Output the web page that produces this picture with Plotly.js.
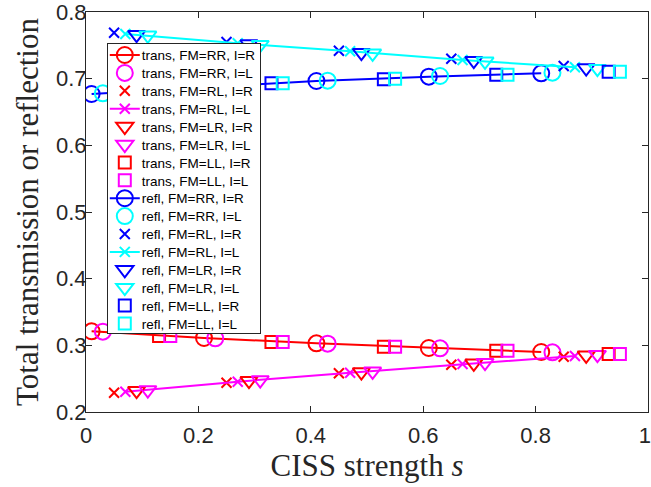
<!DOCTYPE html>
<html>
<head>
<meta charset="utf-8">
<script src="https://cdn.plot.ly/plotly-3.0.1.min.js"></script>
<style>
  html, body { margin: 0; padding: 0; background: #fff; }
  #chart { width: 651px; height: 487px; }
</style>
</head>
<body>
<div id="chart"></div>
<script>
// CISS strength sample points, each series offset slightly so markers stay visible
const sRR_R = [0.01, 0.21, 0.41, 0.61, 0.81];
const sRR_L = [0.03, 0.23, 0.43, 0.63, 0.83];
const sRL_R = [0.05, 0.25, 0.45, 0.65, 0.85];
const sRL_L = [0.07, 0.27, 0.47, 0.67, 0.87];
const sLR_R = [0.09, 0.29, 0.49, 0.69, 0.89];
const sLR_L = [0.11, 0.31, 0.51, 0.71, 0.91];
const sLL_R = [0.13, 0.33, 0.53, 0.73, 0.93];
const sLL_L = [0.15, 0.35, 0.55, 0.75, 0.95];

// Total transmission
const transRR_R = [0.321, 0.311, 0.303, 0.296, 0.290];
const transRR_L = [0.3205, 0.3105, 0.3025, 0.2955, 0.2895];
const transRL_R = [0.229, 0.244, 0.258, 0.271, 0.283];
const transRL_L = [0.2305, 0.2455, 0.259, 0.272, 0.284];
const transLR_R = [0.232, 0.247, 0.260, 0.273, 0.285];
const transLR_L = [0.233, 0.248, 0.261, 0.274, 0.286];
const transLL_R = [0.314, 0.305, 0.298, 0.292, 0.287];
const transLL_L = [0.314, 0.305, 0.298, 0.292, 0.287];

// Total reflection
const reflRR_R = [0.677, 0.687, 0.6965, 0.703, 0.708];
const reflRR_L = [0.678, 0.688, 0.697, 0.704, 0.709];
const reflRL_R = [0.769, 0.755, 0.742, 0.730, 0.719];
const reflRL_L = [0.767, 0.753, 0.741, 0.728, 0.717];
const reflLR_R = [0.766, 0.752, 0.739, 0.727, 0.716];
const reflLR_L = [0.765, 0.751, 0.738, 0.726, 0.715];
const reflLL_R = [0.684, 0.693, 0.699, 0.706, 0.7105];
const reflLL_L = [0.684, 0.693, 0.700, 0.706, 0.7105];

const seriesNames = [
  'trans, FM=RR, I=R', 'trans, FM=RR, I=L', 'trans, FM=RL, I=R', 'trans, FM=RL, I=L',
  'trans, FM=LR, I=R', 'trans, FM=LR, I=L', 'trans, FM=LL, I=R', 'trans, FM=LL, I=L',
  'refl, FM=RR, I=R', 'refl, FM=RR, I=L', 'refl, FM=RL, I=R', 'refl, FM=RL, I=L',
  'refl, FM=LR, I=R', 'refl, FM=LR, I=L', 'refl, FM=LL, I=R', 'refl, FM=LL, I=L'
];

const xTicks = [0, 0.2, 0.4, 0.6, 0.8, 1];
const xTickText = ['0', '0.2', '0.4', '0.6', '0.8', '1'];
const yTicks = [0.2, 0.3, 0.4, 0.5, 0.6, 0.7, 0.8];
const yTickText = ['0.2', '0.3', '0.4', '0.5', '0.6', '0.7', '0.8'];

const RED = '#ff0000', MAG = '#ff00ff', BLUE = '#0000ff', CYAN = '#00ffff';

const markerStyle = {
  o: { symbol: 'circle-open', size: 16 },
  x: { symbol: 'x-thin-open', size: 10 },
  v: { symbol: 'triangle-down-open', size: 15 },
  s: { symbol: 'square-open', size: 12 }
};

function series(name, x, y, color, mk, withLine) {
  const m = markerStyle[mk];
  return {
    type: 'scatter',
    name: name,
    x: x, y: y,
    mode: withLine ? 'lines+markers' : 'markers',
    line: { color: color, width: 2 },
    marker: { symbol: m.symbol, size: m.size, color: color, line: { color: color, width: 2 } }
  };
}

const data = [
  series(seriesNames[0], sRR_R, transRR_R, RED, 'o', true),
  series(seriesNames[1], sRR_L, transRR_L, MAG, 'o', false),
  series(seriesNames[2], sRL_R, transRL_R, RED, 'x', false),
  series(seriesNames[3], sRL_L, transRL_L, MAG, 'x', true),
  series(seriesNames[4], sLR_R, transLR_R, RED, 'v', false),
  series(seriesNames[5], sLR_L, transLR_L, MAG, 'v', false),
  series(seriesNames[6], sLL_R, transLL_R, RED, 's', false),
  series(seriesNames[7], sLL_L, transLL_L, MAG, 's', false),
  series(seriesNames[8], sRR_R, reflRR_R, BLUE, 'o', true),
  series(seriesNames[9], sRR_L, reflRR_L, CYAN, 'o', false),
  series(seriesNames[10], sRL_R, reflRL_R, BLUE, 'x', false),
  series(seriesNames[11], sRL_L, reflRL_L, CYAN, 'x', true),
  series(seriesNames[12], sLR_R, reflLR_R, BLUE, 'v', false),
  series(seriesNames[13], sLR_L, reflLR_L, CYAN, 'v', false),
  series(seriesNames[14], sLL_R, reflLL_R, BLUE, 's', false),
  series(seriesNames[15], sLL_L, reflLL_L, CYAN, 's', false)
];

const AXIS = '#262626';
const tickFont = { family: 'Liberation Sans, Arial, sans-serif', size: 22, color: AXIS };
const titleFont = { family: 'Liberation Serif, Times New Roman, serif', size: 31, color: AXIS };

const layout = {
  width: 651, height: 487,
  margin: { l: 86, r: 3, t: 12, b: 75, pad: 0 },
  paper_bgcolor: '#ffffff',
  plot_bgcolor: '#ffffff',
  showlegend: true,
  legend: {
    x: 0.037, y: 0.9225, xanchor: 'left', yanchor: 'top',
    bgcolor: '#ffffff', bordercolor: AXIS, borderwidth: 1,
    font: { family: 'Liberation Sans, Arial, sans-serif', size: 13.5, color: '#000000' },
    tracegroupgap: 0, itemwidth: 30
  },
  xaxis: {
    range: [0, 1],
    tickvals: xTicks, ticktext: xTickText,
    ticks: 'inside', ticklen: 6, tickwidth: 1, tickcolor: AXIS,
    showline: true, linecolor: AXIS, linewidth: 1, mirror: 'ticks',
    showgrid: false, zeroline: false,
    tickfont: tickFont, ticklabelstandoff: 4, ticklabeloverflow: 'allow',
    title: { text: 'CISS strength <i>s</i>', font: titleFont, standoff: 0 },
    automargin: false
  },
  yaxis: {
    range: [0.2, 0.8],
    tickvals: yTicks, ticktext: yTickText,
    ticks: 'inside', ticklen: 6, tickwidth: 1, tickcolor: AXIS,
    showline: true, linecolor: AXIS, linewidth: 1, mirror: 'ticks',
    showgrid: false, zeroline: false,
    tickfont: tickFont, ticklabelstandoff: -6, ticklabeloverflow: 'allow',
    title: { text: 'Total transmission or reflection', font: titleFont, standoff: 8 },
    automargin: false
  }
};

// Compact legend rows (tighter than Plotly's minimum row height)
function compactLegend(gd) {
  const leg = gd.querySelector('.legend');
  if (!leg) return;
  const rows = leg.querySelectorAll('.traces');
  const rowGap = 17.9, firstRow = 12, bottomPad = 9, boxWidth = 153;
  rows.forEach((g, i) => {
    g.setAttribute('transform', 'translate(1,' + (firstRow + i * rowGap) + ')');
    const txt = g.querySelector('.legendtext');
    if (txt) txt.setAttribute('x', 34);
    const layers = g.querySelector('.layers');
    if (layers) layers.setAttribute('transform', 'translate(-3,0)');
  });
  const h = firstRow + (rows.length - 1) * rowGap + bottomPad;
  const bg = leg.querySelector('rect.bg');
  if (bg) { bg.setAttribute('height', h); bg.setAttribute('width', boxWidth); }
  const clip = document.querySelector('[id^="legend"] rect');
  if (clip) { clip.setAttribute('height', h); clip.setAttribute('width', boxWidth); }
}

// Keep the last x tick label inside the right edge of the figure
function nudgeLastXTick(gd) {
  const labels = gd.querySelectorAll('.xtick text');
  if (!labels.length) return;
  const last = labels[labels.length - 1];
  last.setAttribute('text-anchor', 'end');
  last.setAttribute('x', (parseFloat(last.getAttribute('x')) || 0) + 3);
}

const gd = document.getElementById('chart');
Plotly.newPlot(gd, data, layout, { displayModeBar: false, staticPlot: true })
  .then(() => { compactLegend(gd); nudgeLastXTick(gd); });
</script>
</body>
</html>
